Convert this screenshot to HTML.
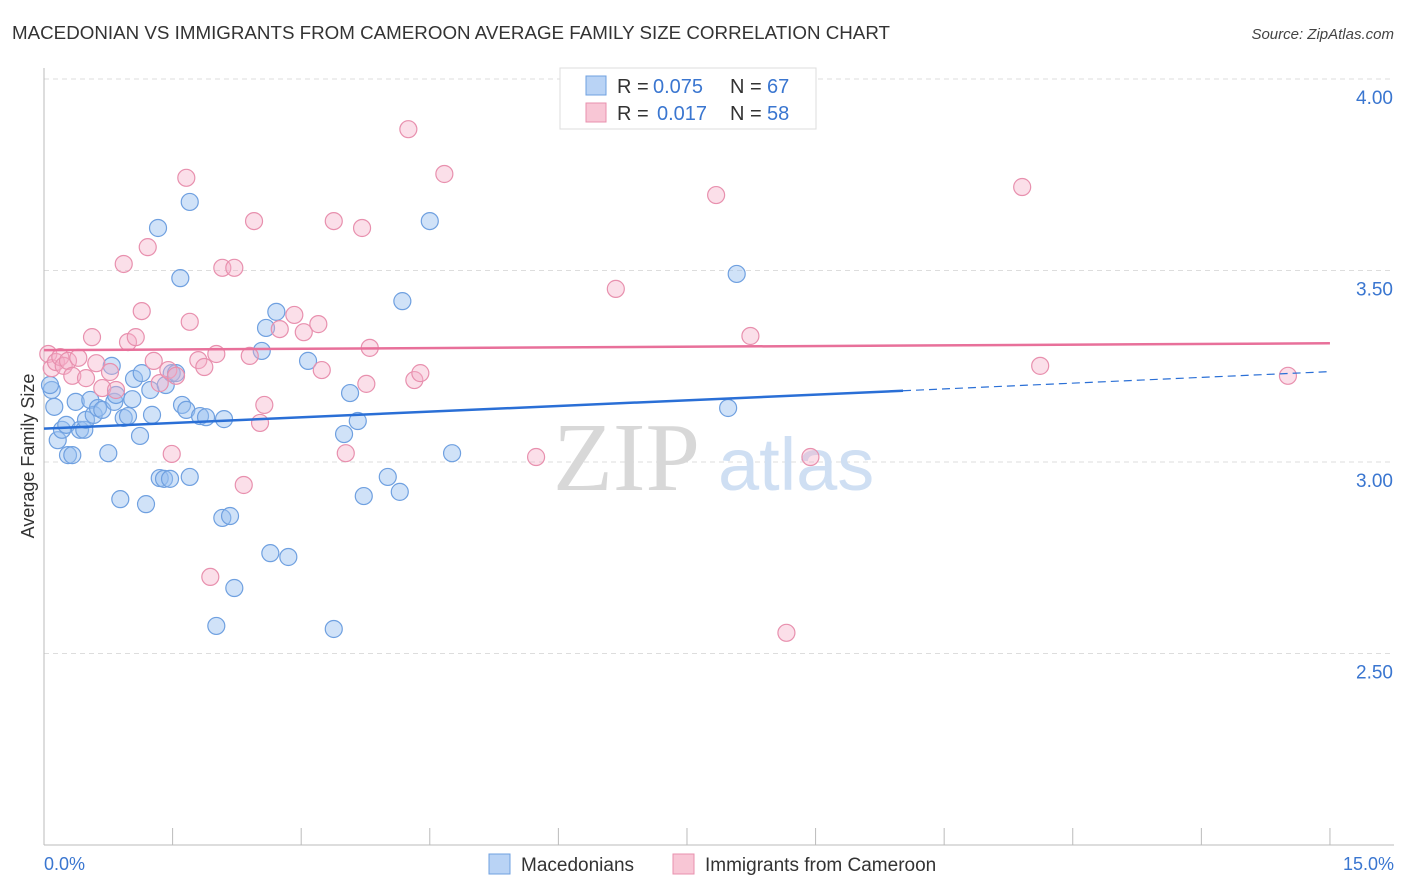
<!DOCTYPE html>
<html><head><meta charset="utf-8"><style>
body{margin:0;background:#fff;font-family:"Liberation Sans",sans-serif;}
svg{display:block}
</style></head><body>
<svg id="chart" width="1406" height="892" xmlns="http://www.w3.org/2000/svg">
<text x="12" y="39" font-size="18" fill="#333" textLength="878" lengthAdjust="spacingAndGlyphs">MACEDONIAN VS IMMIGRANTS FROM CAMEROON AVERAGE FAMILY SIZE CORRELATION CHART</text>
<text x="1394" y="39" font-size="15" fill="#444" font-style="italic" text-anchor="end">Source: ZipAtlas.com</text>
<g id="grid"></g>
<line x1="44" y1="68" x2="44" y2="845" stroke="#bbb"/>
<line x1="44" y1="845" x2="1394" y2="845" stroke="#bbb"/>
<g id="xticks"></g>
<g id="ylabels"></g>
<text x="553" y="490" font-size="98" font-family="Liberation Serif,serif" fill="#d8d8d8">ZIP</text>
<text x="718" y="490" font-size="74" fill="#cfdff3">atlas</text>
<g id="pts"></g>
<g id="lines"></g>
<text transform="translate(34,456) rotate(-90)" font-size="18" fill="#333" text-anchor="middle">Average Family Size</text>
<text x="44" y="870" font-size="18" fill="#3a76d0">0.0%</text>
<text x="1394" y="870" font-size="18" fill="#3a76d0" text-anchor="end">15.0%</text>
<g>
<rect x="560" y="68" width="256" height="61" fill="#fff" stroke="#ddd"/>
<rect x="586" y="76" width="20" height="19" fill="#b9d3f5" stroke="#6fa0e0"/>
<rect x="586" y="103" width="20" height="19" fill="#f8c6d5" stroke="#e890ae"/>
<text x="617" y="93" font-size="20" fill="#333">R =</text>
<text x="653" y="93" font-size="20" fill="#3a76d0">0.075</text>
<text x="730" y="93" font-size="20" fill="#333">N =</text>
<text x="767" y="93" font-size="20" fill="#3a76d0">67</text>
<text x="617" y="120" font-size="20" fill="#333">R =</text>
<text x="657" y="120" font-size="20" fill="#3a76d0">0.017</text>
<text x="730" y="120" font-size="20" fill="#333">N =</text>
<text x="767" y="120" font-size="20" fill="#3a76d0">58</text>
</g>
<g>
<rect x="489" y="854" width="21" height="20" fill="#b9d3f5" stroke="#6fa0e0"/>
<text x="521" y="871" font-size="19" fill="#333">Macedonians</text>
<rect x="673" y="854" width="21" height="20" fill="#f8c6d5" stroke="#e890ae"/>
<text x="705" y="871" font-size="19" fill="#333">Immigrants from Cameroon</text>
</g>
</svg>
<script>
const bluePx=[[52,390],[54,407],[50,385],[58,440],[62,430],[66,425],[68,455],[72,455],[76,402],[80,430],[84,430],[86,420],[90,400],[94,415],[98,408],[102,410],[108,453],[112,366],[114,402],[116,395],[120,499],[124,418],[128,416],[132,399],[134,379],[140,436],[142,373],[146,504],[150,390],[152,415],[158,228],[160,478],[164,479],[166,385],[170,479],[172,373],[176,373],[180,278],[182,405],[186,410],[190,477],[190,202],[200,416],[206,417],[216,626],[222,518],[224,419],[230,516],[234,588],[262,351],[266,328],[270,553],[276,312],[288,557],[308,361],[334,629],[344,434],[350,393],[358,421],[364,496],[388,477],[400,492],[402,301],[430,221],[452,453],[728,408],[737,274]];
const pinkPx=[[48,354],[52,368],[56,362],[60,357],[64,366],[68,361],[72,376],[78,358],[86,378],[92,337],[96,363],[102,388],[110,372],[116,390],[124,264],[128,342],[136,337],[142,311],[148,247],[154,361],[160,383],[168,370],[172,454],[176,376],[186,178],[190,322],[198,360],[204,367],[210,577],[216,354],[222,268],[234,268],[244,485],[250,356],[254,221],[260,423],[264,405],[280,329],[294,315],[304,332],[318,324],[322,370],[334,221],[346,453],[362,228],[366,384],[370,348],[408,129],[414,380],[420,373],[444,174],[536,457],[616,289],[716,195],[750,336],[786,633],[810,457],[1022,187],[1040,366],[1288,376]];
const blueX=bluePx.map(p=>+((p[0]-44)/85.73).toFixed(2));
const blueY=bluePx.map(p=>+(4-(p[1]-79)/383).toFixed(3));
const pinkX=pinkPx.map(p=>+((p[0]-44)/85.73).toFixed(2));
const pinkY=pinkPx.map(p=>+(4-(p[1]-79)/383).toFixed(3));
const yTicks=[4.0,3.5,3.0,2.5];
const yTickLabels=["4.00","3.50","3.00","2.50"];
const xTicks=[0,1.5,3,4.5,6,7.5,9,10.5,12,13.5,15];
const blueTrend=[3.087,3.186,3.236];
const pinkTrend=[3.292,3.31];
const sx=v=>44+v*85.73, sy=v=>79+(4-v)*383;
const NS="http://www.w3.org/2000/svg";
function mk(t,a,p){const e=document.createElementNS(NS,t);for(const k in a)e.setAttribute(k,a[k]);p.appendChild(e);return e;}
const grid=document.getElementById('grid'),yl=document.getElementById('ylabels'),xt=document.getElementById('xticks');
yTicks.forEach((v,i)=>{
 const l=mk('line',{x1:44,x2:1394,y1:sy(v),y2:sy(v),stroke:'#ddd','stroke-dasharray':'5,4'},grid);
 
 
 const t=mk('text',{x:1393,y:sy(v)+25,'font-size':19,fill:'#3a76d0','text-anchor':'end'},yl);
 t.textContent=yTickLabels[i];
 
 
});
xTicks.forEach(v=>{
 const l=mk('line',{x1:sx(v),x2:sx(v),y1:828,y2:845,stroke:'#bbb'},xt);
 
 
});
const pts=document.getElementById('pts');
blueX.forEach((x,i)=>{
 const c=mk('circle',{cx:sx(x),cy:sy(blueY[i]),r:8.5,fill:'rgba(150,190,240,0.45)',stroke:'#6fa0e0','stroke-width':1.2},pts);
 
 
});
pinkX.forEach((x,i)=>{
 const c=mk('circle',{cx:sx(x),cy:sy(pinkY[i]),r:8.5,fill:'rgba(245,175,200,0.4)',stroke:'#e890ae','stroke-width':1.2},pts);
 
 
});
const ln=document.getElementById('lines');
let a=mk('line',{x1:sx(0),y1:sy(blueTrend[0]),x2:sx(10.02),y2:sy(blueTrend[1]),stroke:'#2a6fd6','stroke-width':2.5},ln);


a=mk('line',{x1:sx(10.02),y1:sy(blueTrend[1]),x2:sx(15),y2:sy(blueTrend[2]),stroke:'#2a6fd6','stroke-width':1.2,'stroke-dasharray':'8,5'},ln);


a=mk('line',{x1:sx(0),y1:sy(pinkTrend[0]),x2:sx(15),y2:sy(pinkTrend[1]),stroke:'#e8709a','stroke-width':2.5},ln);


</script>
</body></html>
